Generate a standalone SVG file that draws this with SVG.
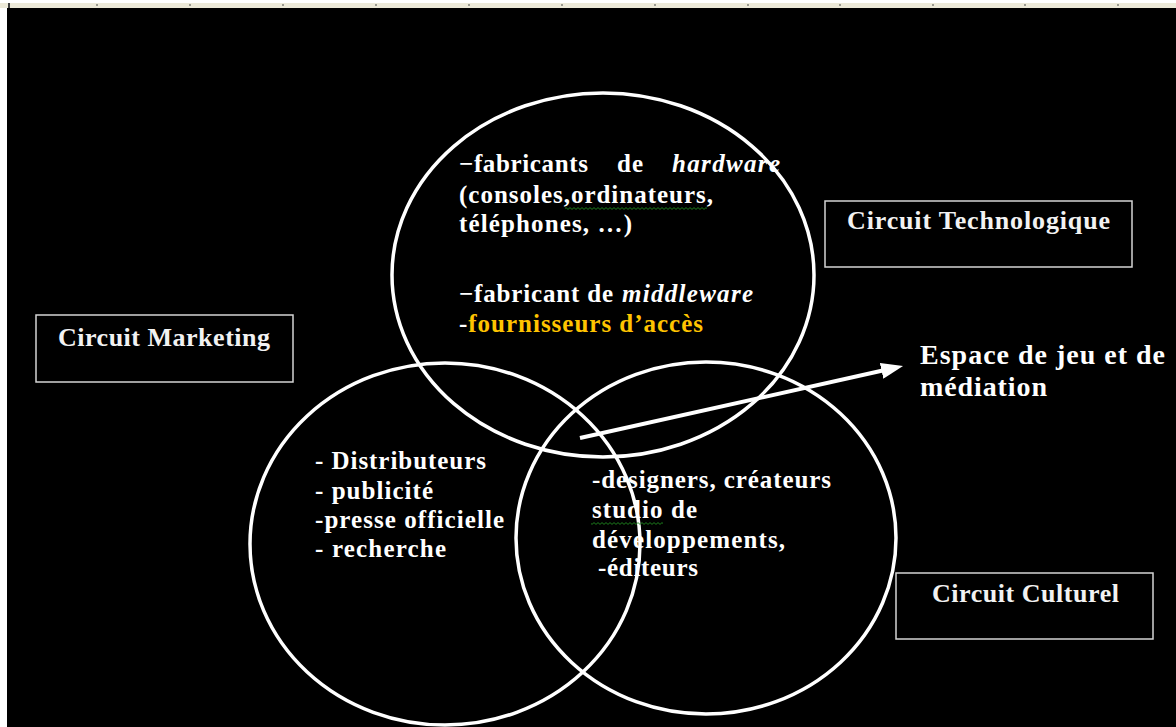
<svg xmlns="http://www.w3.org/2000/svg" width="1176" height="727" viewBox="0 0 1176 727">
  <style>
    .t { font-family: "Liberation Serif", "Times New Roman", serif; font-weight: bold; fill: #ffffff; }
    .c { font-size: 25px; }
    .lbl { font-size: 26px; fill: #f2f2f2; }
    .big { font-size: 28px; }
    .it { font-style: italic; }
    .ring { fill: none; stroke: #ffffff; stroke-width: 3.5; }
    .box { fill: none; stroke: #d4d4d4; stroke-width: 1.5; }
    .tick { fill: #9a9a90; }
  </style>
  <defs>
    <marker id="head" viewBox="0 0 22 16" refX="7" refY="8" markerWidth="22" markerHeight="16" markerUnits="userSpaceOnUse" orient="auto">
      <path d="M0,0 L22,8 L0,16 z" fill="#ffffff"/>
    </marker>
    <pattern id="squiggle" width="4" height="3" patternUnits="userSpaceOnUse">
      <path d="M0,2.4 L2,0.6 L4,2.4" fill="none" stroke="#1e8a1e" stroke-width="0.9"/>
    </pattern>
  </defs>

  <!-- window frame: ruler strip and left margin -->
  <rect x="0" y="0" width="1176" height="727" fill="#ffffff"/>
  <rect x="0" y="3" width="1176" height="5" fill="#ece9d8"/>
  <g id="ruler-ticks">
    <rect class="tick" x="96" y="4" width="2" height="2"/>
    <rect class="tick" x="189" y="4" width="2" height="2"/>
    <rect class="tick" x="282" y="4" width="2" height="2"/>
    <rect class="tick" x="375" y="4" width="2" height="2"/>
    <rect class="tick" x="468" y="4" width="2" height="2"/>
    <rect class="tick" x="561" y="4" width="2" height="2"/>
    <rect class="tick" x="654" y="4" width="2" height="2"/>
    <rect class="tick" x="747" y="4" width="2" height="2"/>
    <rect class="tick" x="839" y="4" width="2" height="2"/>
    <rect class="tick" x="932" y="4" width="2" height="2"/>
    <rect class="tick" x="1024" y="4" width="2" height="2"/>
    <rect class="tick" x="1117" y="4" width="2" height="2"/>
  </g>
  <rect x="8" y="3" width="2" height="5" fill="#404040"/>
  <rect x="7" y="8" width="1169" height="719" fill="#000000"/>

  <!-- the three overlapping circuits -->
  <g id="circle-tech">
    <ellipse class="ring" cx="603" cy="275" rx="211" ry="182"/>
  </g>
  <g id="circle-marketing">
    <ellipse class="ring" cx="445" cy="544" rx="195" ry="181"/>
  </g>
  <g id="circle-culture">
    <ellipse class="ring" cx="706" cy="538" rx="190" ry="176"/>
  </g>

  <!-- technology circle contents -->
  <g id="tech-text">
    <text class="t c" y="172"><tspan x="459" textLength="129" lengthAdjust="spacing">−fabricants</tspan><tspan x="617" textLength="26" lengthAdjust="spacing">de</tspan><tspan class="it" x="672" textLength="108" lengthAdjust="spacing">hardware</tspan></text>
    <text class="t c" x="459" y="203" textLength="254" lengthAdjust="spacing">(consoles,ordinateurs,</text>
    <rect x="565" y="207" width="142" height="3" fill="url(#squiggle)"/>
    <text class="t c" x="459" y="232" textLength="173" lengthAdjust="spacing">téléphones, …)</text>
    <text class="t c" y="302"><tspan x="459" textLength="154" lengthAdjust="spacing">−fabricant de</tspan><tspan class="it" x="622" textLength="131" lengthAdjust="spacing">middleware</tspan></text>
    <text class="t c" x="459" y="332" textLength="244" lengthAdjust="spacing"><tspan fill="#ffffff">-</tspan><tspan fill="#ffc400">fournisseurs d’accès</tspan></text>
  </g>

  <!-- marketing circle contents -->
  <g id="marketing-text">
    <text class="t c" x="315" y="469" textLength="171" lengthAdjust="spacing">- Distributeurs</text>
    <text class="t c" x="315" y="499" textLength="118" lengthAdjust="spacing">- publicité</text>
    <text class="t c" x="315" y="528" textLength="189" lengthAdjust="spacing">-presse officielle</text>
    <text class="t c" x="315" y="557" textLength="131" lengthAdjust="spacing">- recherche</text>
  </g>

  <!-- culture circle contents -->
  <g id="culture-text">
    <text class="t c" x="592" y="488" textLength="239" lengthAdjust="spacing">-designers, créateurs</text>
    <text class="t c" x="592" y="518" textLength="105" lengthAdjust="spacing">studio de</text>
    <rect x="591" y="522" width="72" height="3" fill="url(#squiggle)"/>
    <text class="t c" x="592" y="548" textLength="193" lengthAdjust="spacing">développements,</text>
    <text class="t c" x="598" y="576" textLength="100" lengthAdjust="spacing">-éditeurs</text>
  </g>

  <!-- labelled boxes -->
  <g id="box-marketing">
    <rect class="box" x="36" y="315" width="257" height="67"/>
    <text class="t lbl" x="58" y="346" textLength="212" lengthAdjust="spacing">Circuit Marketing</text>
  </g>
  <g id="box-tech">
    <rect class="box" x="825" y="201" width="307" height="66"/>
    <text class="t lbl" x="847" y="229" textLength="263" lengthAdjust="spacing">Circuit Technologique</text>
  </g>
  <g id="box-culture">
    <rect class="box" x="896" y="573" width="257" height="66"/>
    <text class="t lbl" x="932" y="602" textLength="187" lengthAdjust="spacing">Circuit Culturel</text>
  </g>

  <!-- pointer from the shared zone -->
  <g id="connectors">
    <line x1="580" y1="438" x2="888.4" y2="369.3" stroke="#ffffff" stroke-width="4" marker-end="url(#head)"/>
  </g>

  <g id="play-space">
    <text class="t big" x="920" y="364" textLength="245" lengthAdjust="spacing">Espace de jeu et de</text>
    <text class="t big" x="920" y="396" textLength="127" lengthAdjust="spacing">médiation</text>
  </g>
</svg>
